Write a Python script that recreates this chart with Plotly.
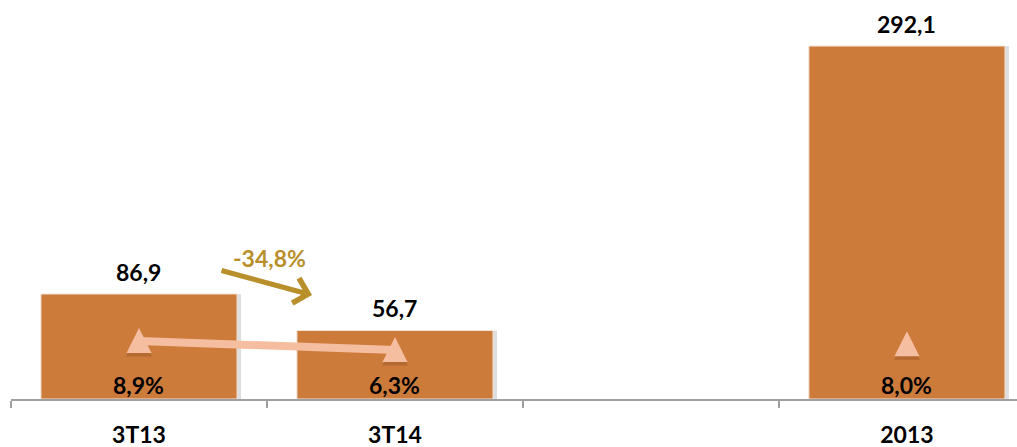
import plotly.graph_objects as go

# Periods shown on the axis (the blank slot separates quarters from the full year)
categories = ["3T13", "3T14", " ", "2013"]
ebitda_values = [86.9, 56.7, None, 292.1]
margin_pct = [8.9, 6.3, None, 8.0]
change_label = "-34,8%"

bar_color = "#CD7B3B"
marker_color = "#F6BEA0"
arrow_color = "#B88F2A"
font_family = "Lato, 'Open Sans', sans-serif"
label_size = 23

BAR_W = 0.766
PX_PER_CAT = 256.0

# Triangle marker outline, in pixels around its anchor point (y up)
TRIANGLE_PATH = "M-12.5,-12 L12.5,-12 L0,13 Z"
TRIANGLE_SHADOW_PATH = "M-13,-15.5 L13,-15.5 L0,10 Z"


def fmt(v, suffix=""):
    return f"{v:.1f}".replace(".", ",") + suffix


idx = list(range(len(categories)))

fig = go.Figure()

# Soft drop shadow to the right of each bar
fig.add_trace(go.Bar(
    x=idx,
    y=ebitda_values,
    width=BAR_W,
    offset=-BAR_W / 2 + 4 / PX_PER_CAT,
    marker=dict(color="rgba(0,0,0,0.13)", line=dict(width=0)),
    hoverinfo="skip",
    yaxis="y",
))

fig.add_trace(go.Bar(
    x=idx,
    y=ebitda_values,
    width=BAR_W,
    offset=-BAR_W / 2,
    marker=dict(color=bar_color, line=dict(width=1, color="#F2E2D6")),
    hoverinfo="skip",
    yaxis="y",
))

# Margin line (breaks across the empty slot)
fig.add_trace(go.Scatter(
    x=idx,
    y=margin_pct,
    mode="lines",
    connectgaps=False,
    line=dict(color=marker_color, width=8),
    hoverinfo="skip",
    yaxis="y2",
))

# Triangle markers anchored at each margin value
shapes = []
for i, m in zip(idx, margin_pct):
    if m is None:
        continue
    shapes.append(dict(
        type="path", xref="x", yref="y2",
        xsizemode="pixel", ysizemode="pixel", xanchor=i, yanchor=m,
        path=TRIANGLE_SHADOW_PATH, fillcolor="rgba(90,40,10,0.22)",
        line=dict(width=0), layer="above",
    ))
    shapes.append(dict(
        type="path", xref="x", yref="y2",
        xsizemode="pixel", ysizemode="pixel", xanchor=i, yanchor=m,
        path=TRIANGLE_PATH, fillcolor=marker_color,
        line=dict(width=0), layer="above",
    ))

annotations = []
# Value labels above each bar
for i, v in zip(idx, ebitda_values):
    if v is None:
        continue
    annotations.append(dict(
        x=i, y=v, xref="x", yref="y", text=fmt(v),
        showarrow=False, yanchor="bottom", yshift=6,
        font=dict(family=font_family, size=label_size, color="#000000", weight="bold"),
    ))
# Margin labels near the bottom of each bar
for i, m in zip(idx, margin_pct):
    if m is None:
        continue
    annotations.append(dict(
        x=i, y=0, xref="x", yref="y", text=fmt(m, "%"),
        showarrow=False, yanchor="middle", yshift=14,
        font=dict(family=font_family, size=label_size, color="#000000", weight="bold"),
    ))

# Change between quarters: arrow and its label
annotations.append(dict(
    x=0.676, y=86, xref="x", yref="y", text="",
    showarrow=True, ax=-92, ay=-25, axref="pixel", ayref="pixel",
    arrowhead=4, arrowsize=1.0, arrowwidth=5, arrowcolor=arrow_color,
))
annotations.append(dict(
    x=0.51, y=116.7, xref="x", yref="y", text=change_label,
    showarrow=False,
    font=dict(family=font_family, size=label_size, color=arrow_color, weight="bold"),
))

fig.update_layout(
    width=1017,
    height=447,
    margin=dict(l=11, r=0, t=0, b=48, autoexpand=False),
    paper_bgcolor="white",
    plot_bgcolor="white",
    showlegend=False,
    barmode="overlay",
    annotations=annotations,
    shapes=shapes,
    xaxis=dict(
        range=[-0.5, 3.43],
        automargin=False,
        tickmode="array",
        tickvals=idx,
        ticktext=categories,
        ticks="",
        minor=dict(tickmode="array", tickvals=[-0.5, 0.5, 1.5, 2.5],
                   ticks="outside", ticklen=7, tickwidth=2, tickcolor="#A0A0A0",
                   showgrid=False),
        showline=True,
        linecolor="#A0A0A0",
        linewidth=2,
        showgrid=False,
        zeroline=False,
        ticklabelstandoff=14,
        tickfont=dict(family=font_family, size=label_size, color="#000000", weight="bold"),
    ),
    yaxis=dict(range=[0, 330.2], visible=False, showgrid=False, zeroline=False),
    yaxis2=dict(range=[-7.86, 107.5], overlaying="y", visible=False,
                showgrid=False, zeroline=False),
)

fig.write_html("out.html")
